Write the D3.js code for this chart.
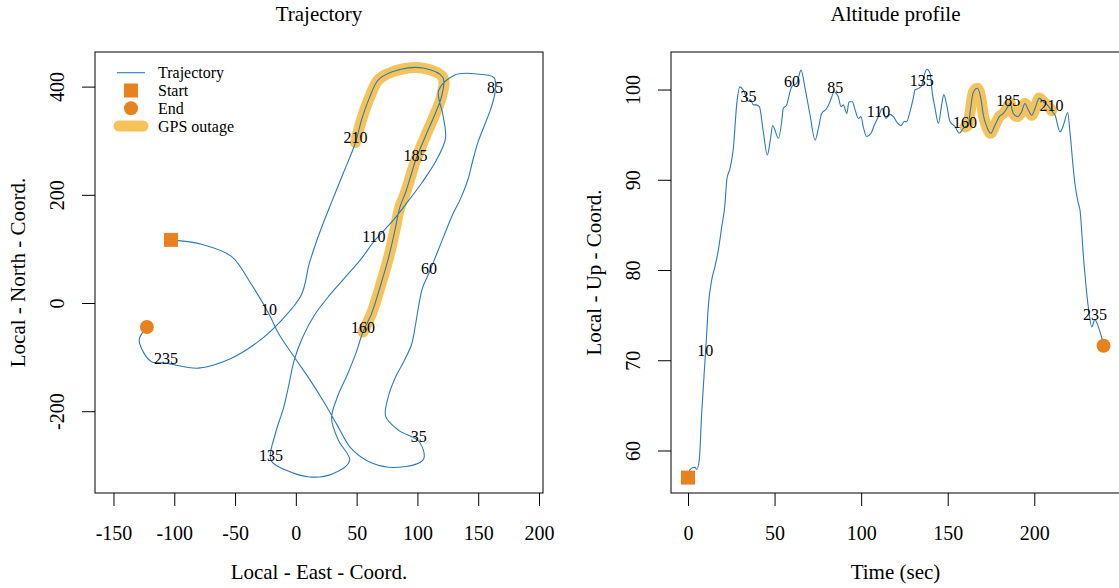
<!DOCTYPE html>
<html>
<head>
<meta charset="utf-8">
<script src="https://cdn.jsdelivr.net/npm/d3@7"></script>
<style>
  body { margin: 0; background: #fff; }
  svg text { font-family: "Liberation Serif", "Times New Roman", serif; fill: #000; }
</style>
</head>
<body>
<svg id="chart" width="1119" height="588"></svg>
<script>
// trajectory: time (sec), local east / north coords
const trackTime = [0, 2.5, 5, 7.5, 10, 12.5, 15, 17.5, 20, 22.5, 25, 27.5, 30, 32.5, 35, 37.5, 40, 42.5, 45, 47.5,
    50, 52.5, 55, 57.5, 60, 62.5, 65, 67.5, 70, 72.5, 75, 77.5, 80, 82.5, 85, 86.25, 87.5, 90, 92.5, 95, 97.5,
    100, 102.5, 105, 107.5, 110, 112.5, 115, 117.5, 120, 122.5, 125, 127.5, 130, 132.5, 135, 137.5, 140, 142.5, 145, 147.5,
    150, 152.5, 155, 157.5, 160, 162.5, 165, 167.5, 170, 172.5, 175, 177.5, 180, 182.5, 185, 187.5, 190, 192.5, 195, 197.5,
    200, 202.5, 205, 207.5, 210, 212.5, 215, 217.5, 220, 222.5, 225, 227.5, 230, 232.5, 235, 236.25, 237.5, 238.75, 240];
const trackEast = [-102.7, -76.8, -53.0, -37.8, -22.1, -14.2, -1.9, 10.8, 22.7, 33.8, 45.1, 62.6, 84.4, 105.0, 101.2, 84.6, 73.9, 75.9, 81.2, 88.5,
    95.1, 98.3, 100.9, 104.2, 109.5, 116.5, 122.5, 128.6, 135.7, 141.5, 145.5, 149.9, 155.7, 160.1, 163.8, 163.0, 150.8, 130.9, 117.5, 120.9, 123.1,
    115.3, 104.4, 92.4, 80.0, 64.2, 54.1, 40.7, 27.4, 15.1, 5.7, -1.4, -5.7, -10.3, -16.5, -20.5, -7.3, 10.9, 29.9, 44.3, 35.0,
    29.4, 34.5, 42.4, 49.6, 55.2, 62.2, 66.9, 71.2, 75.4, 79.0, 82.2, 85.3, 90.6, 95.0, 98.4, 106.6, 113.8, 119.8, 121.0, 104.5,
    85.6, 68.4, 60.2, 54.1, 49.0, 39.6, 29.5, 19.7, 11.1, 4.5, -11.8, -31.8, -54.7, -80.2, -106.9, -118.4, -125.2, -128.8, -122.5];
const trackNorth = [116.7, 108.1, 86.1, 38.9, -20.3, -56.3, -98.0, -139.3, -181.5, -224.8, -267.6, -295.6, -303.7, -288.9, -255.6, -235.4, -209.6, -174.6, -140.9, -109.4,
    -77.2, -42.0, -6.9, 28.1, 55.5, 94.4, 127.9, 161.9, 193.9, 227.8, 263.0, 297.8, 331.5, 357.4, 388.9, 416.7, 423.0, 421.7, 393.0, 348.5, 304.3,
    262.8, 224.6, 188.3, 152.6, 113.7, 82.6, 47.8, 13.5, -23.1, -63.0, -105.9, -150.9, -195.4, -238.9, -290.7, -309.8, -321.5, -316.1, -291.3, -253.7,
    -213.0, -171.9, -132.0, -91.7, -53.7, -20.0, 11.7, 44.1, 76.5, 109.3, 142.0, 175.0, 206.5, 238.5, 263.0, 308.3, 345.7, 381.5, 416.7, 434.3,
    431.5, 413.7, 377.4, 338.9, 296.3, 243.1, 187.0, 130.7, 73.3, 14.6, -31.9, -72.8, -103.9, -120.4, -111.1, -108.9, -91.7, -67.2, -44.4];

// altitude profile: time (sec), local up coord
const altTime = [0, 1.2, 4.0, 5.0, 6.5, 7.9, 10.0, 10.8, 11.7, 13.7, 15.6, 17.5, 19.5, 21.4, 22.4, 24.3, 26.2, 28.1, 30.0, 31.9,
    35.0, 36.2, 37.7, 39.3, 41.2, 43.5, 45.8, 47.4, 48.9, 52.2, 54.1, 55.0, 57.0, 58.9, 60.0, 62.8, 65.3, 67.6, 70.5, 73.4,
    75.3, 77.2, 80.1, 82.0, 84.5, 85.0, 86.8, 88.4, 89.7, 91.7, 93.0, 94.9, 96.5, 98.4, 99.9, 101.2, 103.2, 105.7, 107.6, 110.0,
    112.2, 114.2, 116.7, 118.6, 121.1, 123.0, 124.9, 126.3, 128.2, 130.1, 131.1, 133.4, 135.0, 136.5, 137.9, 139.8, 141.1, 142.7, 144.6, 146.5,
    147.7, 149.4, 151.3, 154.2, 156.7, 159.0, 160.0, 161.9, 163.0, 164.8, 167.1, 169.1, 170.6, 172.5, 174.8, 177.3, 179.8, 182.1, 184.1, 185.0,
    186.0, 187.9, 190.2, 192.7, 194.6, 196.5, 198.5, 200.4, 202.9, 205.2, 207.2, 210.0, 212.0, 214.9, 216.8, 219.3, 220.6, 222.5, 223.5, 225.4,
    226.4, 228.3, 231.2, 233.2, 235.0, 237.0, 239.0, 240.0];
const altUp = [57.0, 57.9, 58.15, 57.9, 58.95, 64.1, 70.5, 73.0, 75.9, 78.9, 80.4, 82.2, 84.8, 87.4, 90.0, 91.3, 93.5, 98.3, 100.3, 99.95,
    98.7, 98.85, 98.3, 98.3, 98.1, 95.3, 92.75, 94.2, 96.0, 94.6, 96.4, 97.9, 98.3, 99.75, 100.35, 100.7, 102.15, 100.15, 97.15, 94.4,
    95.7, 97.35, 97.9, 98.65, 99.75, 99.7, 99.2, 98.1, 98.3, 97.35, 98.65, 98.65, 97.75, 96.8, 97.0, 95.9, 94.8, 95.15, 96.05, 97.0,
    97.9, 96.8, 97.25, 97.0, 96.25, 96.0, 96.45, 96.45, 97.55, 99.05, 99.95, 100.15, 100.45, 101.6, 102.25, 101.8, 99.6, 97.9, 96.25, 98.3,
    99.45, 98.3, 96.45, 95.9, 95.15, 95.7, 95.85, 96.05, 97.6, 99.7, 100.15, 99.05, 97.15, 95.9, 95.15, 96.05, 97.0, 97.35, 97.9, 98.2,
    98.45, 97.35, 97.0, 97.55, 98.45, 97.75, 97.15, 97.9, 99.05, 98.65, 98.35, 97.65, 97.15, 95.3, 96.05, 97.45, 95.3, 91.3, 89.5, 87.4,
    86.65, 81.7, 75.9, 73.7, 74.5, 73.7, 72.45, 71.6];

const labelTimes = [10, 35, 60, 85, 110, 135, 160, 185, 210, 235];
const outageStart = 160;
const outageEnd = 210;

const eastTicks = [-150, -100, -50, 0, 50, 100, 150, 200];
const northTicks = [-200, 0, 200, 400];
const timeTicks = [0, 50, 100, 150, 200];
const upTicks = [60, 70, 80, 90, 100];
const legendLabels = ["Trajectory", "Start", "End", "GPS outage"];

const lineColor = "#2a7ab9";
const markColor = "#e8821f";
const outageColor = "#f5c35a";

const svg = d3.select("#chart");

// draws one panel: box, axes, band, line, markers, time labels
function drawPanel(opts) {
    const { box, xDomain, yDomain, xTicks, yTicks, title, xTitle, yTitle, times, xs, ys, curve } = opts;

    const x = d3.scaleLinear().domain(xDomain).range([box.left, box.right]);
    const y = d3.scaleLinear().domain(yDomain).range([box.bottom, box.top]);
    const g = svg.append("g");

    const idx = d3.range(times.length);
    const line = d3.line()
        .x(i => x(xs[i]))
        .y(i => y(ys[i]))
        .curve(curve);

    // GPS outage band goes under the trajectory
    const outIdx = idx.filter(i => times[i] >= outageStart && times[i] <= outageEnd);
    g.append("path")
        .attr("d", line(outIdx))
        .attr("fill", "none")
        .attr("stroke", outageColor)
        .attr("stroke-width", 11)
        .attr("stroke-linecap", "round")
        .attr("stroke-linejoin", "round");

    g.append("path")
        .attr("d", line(idx))
        .attr("fill", "none")
        .attr("stroke", lineColor)
        .attr("stroke-width", 1.1);

    // time labels every 25 sec
    labelTimes.forEach(t => {
        const i = times.indexOf(t);
        g.append("text")
            .attr("x", x(xs[i]))
            .attr("y", y(ys[i]) - 5)
            .attr("dy", "0.35em")
            .attr("text-anchor", "middle")
            .style("font-size", "16px")
            .text(t);
    });

    // start / end markers
    const last = times.length - 1;
    g.append("rect")
        .attr("x", x(xs[0]) - 7)
        .attr("y", y(ys[0]) - 7)
        .attr("width", 14)
        .attr("height", 14)
        .attr("fill", markColor);
    g.append("circle")
        .attr("cx", x(xs[last]))
        .attr("cy", y(ys[last]))
        .attr("r", 7)
        .attr("fill", markColor);

    // box
    g.append("rect")
        .attr("x", box.left)
        .attr("y", box.top)
        .attr("width", box.right - box.left)
        .attr("height", box.bottom - box.top)
        .attr("fill", "none")
        .attr("stroke", "#000")
        .attr("stroke-width", 1);

    g.append("g")
        .attr("transform", `translate(0,${box.bottom})`)
        .call(d3.axisBottom(x).tickValues(xTicks).tickSize(13).tickPadding(20).tickFormat(d => String(d)))
        .call(a => a.select(".domain").remove())
        .call(a => a.selectAll("text").style("font-size", "20px").attr("fill", "#000"));

    g.append("g")
        .attr("transform", `translate(${box.left},0)`)
        .call(d3.axisLeft(y).tickValues(yTicks).tickSize(13).tickFormat(d => String(d)))
        .call(a => a.select(".domain").remove())
        .call(a => a.selectAll("text")
            .attr("x", 0).attr("y", 0).attr("dy", 0)
            .attr("text-anchor", "middle")
            .attr("transform", "translate(-31,0) rotate(-90)")
            .style("font-size", "20px").attr("fill", "#000"));

    const midX = (box.left + box.right) / 2;
    const midY = (box.top + box.bottom) / 2;
    g.append("text").attr("x", midX).attr("y", 21).attr("text-anchor", "middle")
        .style("font-size", "21px").text(title);
    g.append("text").attr("x", midX).attr("y", 579).attr("text-anchor", "middle")
        .style("font-size", "21px").text(xTitle);
    g.append("text")
        .attr("transform", `translate(${box.left - 70},${midY}) rotate(-90)`)
        .attr("text-anchor", "middle")
        .style("font-size", "21px").text(yTitle);

    return g;
}

const left = drawPanel({
    box: { left: 95, right: 543, top: 52, bottom: 493 },
    xDomain: [-165.2, 203.3], yDomain: [-351.2, 464.0],
    xTicks: eastTicks, yTicks: northTicks,
    title: "Trajectory", xTitle: "Local - East - Coord.", yTitle: "Local - North - Coord.",
    times: trackTime, xs: trackEast, ys: trackNorth,
    curve: d3.curveCatmullRom.alpha(0.5)
});

drawPanel({
    box: { left: 671, right: 1120, top: 52, bottom: 493 },
    xDomain: [-9.82, 249.5], yDomain: [55.29, 104.16],
    xTicks: timeTicks, yTicks: upTicks,
    title: "Altitude profile", xTitle: "Time (sec)", yTitle: "Local - Up - Coord.",
    times: altTime, xs: altTime, ys: altUp,
    curve: d3.curveMonotoneX
});

// legend, no frame
const legend = left.append("g");
const rowY = [72.7, 90.5, 108.3, 126];
legend.append("line").attr("x1", 117).attr("x2", 145).attr("y1", rowY[0]).attr("y2", rowY[0])
    .attr("stroke", lineColor).attr("stroke-width", 1.1);
legend.append("rect").attr("x", 124).attr("y", rowY[1] - 7).attr("width", 14).attr("height", 14)
    .attr("fill", markColor);
legend.append("circle").attr("cx", 131).attr("cy", rowY[2]).attr("r", 7).attr("fill", markColor);
legend.append("line").attr("x1", 119).attr("x2", 143).attr("y1", rowY[3]).attr("y2", rowY[3])
    .attr("stroke", outageColor).attr("stroke-width", 11).attr("stroke-linecap", "round");
legendLabels.forEach((lab, i) => {
    legend.append("text")
        .attr("x", 158)
        .attr("y", rowY[i])
        .attr("dy", "0.35em")
        .style("font-size", "16px")
        .text(lab);
});
</script>
</body>
</html>
